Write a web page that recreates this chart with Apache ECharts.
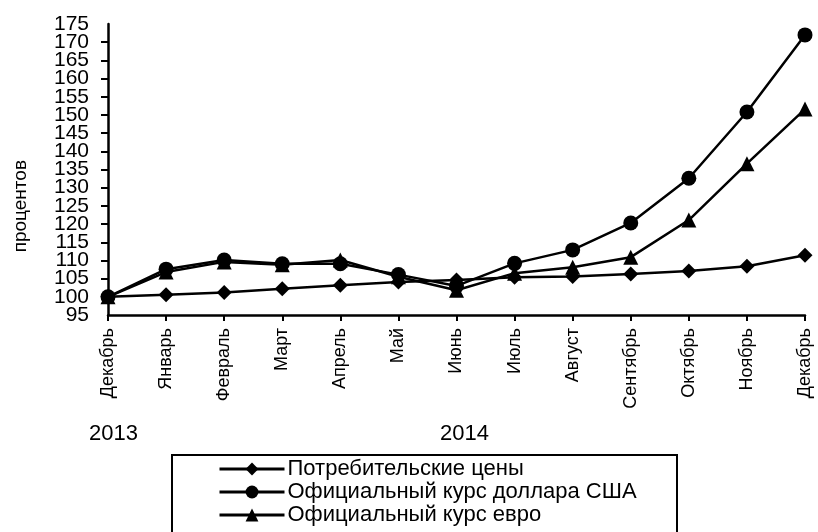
<!DOCTYPE html>
<html>
<head>
<meta charset="utf-8">
<script src="https://cdn.jsdelivr.net/npm/echarts@6/dist/echarts.min.js"></script>
<style>
html,body{margin:0;padding:0;background:#fff;}
#chart{width:818px;height:532px;}
</style>
</head>
<body>
<div id="chart"></div>
<script>
const months = ['Декабрь','Январь','Февраль','Март','Апрель','Май','Июнь','Июль','Август','Сентябрь','Октябрь','Ноябрь','Декабрь'];
const cpi = [100, 100.6, 101.2, 102.2, 103.2, 104.1, 104.6, 105.4, 105.6, 106.3, 107.1, 108.4, 111.4];
const usd = [100, 107.6, 110.1, 109.1, 109.1, 106.1, 103.0, 109.2, 112.9, 120.3, 132.6, 150.8, 172.0];
const eur = [100, 106.8, 109.6, 108.8, 110.1, 105.5, 101.8, 106.5, 108.1, 110.9, 121.1, 136.6, 151.6];
const seriesNames = ['Потребительские цены', 'Официальный курс доллара США', 'Официальный курс евро'];
const yearLabels = ['2013', '2014'];
const yAxisTitle = 'процентов';
const yMin = 95, yMax = 175, yStep = 5;

const FONT = 'Liberation Sans, Arial, sans-serif';
const chart = echarts.init(document.getElementById('chart'), null, {renderer: 'canvas'});

function mkSeries(name, data, symbol) {
  return {
    name: name, type: 'line', data: data, symbol: symbol, symbolSize: 15,
    showAllSymbol: true, yAxisIndex: 0,
    lineStyle: {color: '#000', width: 2.5},
    itemStyle: {color: '#000'},
    z: 3
  };
}

const yLabelStyle = {margin: 19, color: '#000', fontFamily: FONT, fontSize: 21, lineHeight: 16, hideOverlap: false};

chart.setOption({
  animation: false,
  backgroundColor: '#fff',
  textStyle: {fontFamily: FONT, color: '#000'},
  grid: {left: 108, right: 13, top: 24, bottom: 217, containLabel: false},
  xAxis: {
    type: 'category', data: months, boundaryGap: false,
    axisLine: {lineStyle: {color: '#000', width: 2.5}},
    axisTick: {show: true, inside: false, length: 6, lineStyle: {color: '#000', width: 2}, alignWithLabel: true},
    axisLabel: {rotate: 90, margin: 13, fontSize: 18, color: '#000', fontFamily: FONT, interval: 0},
    splitLine: {show: false}
  },
  yAxis: [{
    type: 'value', min: yMin, max: yMax, interval: yStep, position: 'left',
    axisLine: {show: true, lineStyle: {color: '#000', width: 2.5}},
    axisTick: {show: true, inside: false, length: 7, lineStyle: {color: '#000', width: 2}},
    axisLabel: Object.assign({}, yLabelStyle, {showMinLabel: false, showMaxLabel: false}),
    splitLine: {show: false}
  }, {
    type: 'value', min: yMin, max: yMax, interval: yMax - yMin, position: 'left', offset: 0,
    axisLine: {show: false}, axisTick: {show: false}, splitLine: {show: false},
    axisLabel: Object.assign({}, yLabelStyle, {showMinLabel: true, showMaxLabel: true})
  }],
  legend: {
    orient: 'vertical', left: 172, top: 458, height: 80,
    data: seriesNames,
    itemWidth: 65, itemHeight: 16, itemGap: 1,
    padding: [0, 0, 0, 46],
    lineStyle: {width: 3, color: '#000'},
    textStyle: {fontSize: 22, color: '#000', fontFamily: FONT, padding: [0, 0, 0, -2]},
    selectedMode: false
  },
  graphic: [
    {type: 'rect', shape: {x: 172, y: 455, width: 505, height: 100}, style: {fill: 'none', stroke: '#000', lineWidth: 2}, silent: true},
    {type: 'text', left: 11, top: 160, rotation: Math.PI/2, style: {text: yAxisTitle, fontSize: 19, fontFamily: FONT, fill: '#000'}},
    {type: 'text', left: 89, top: 423, style: {text: yearLabels[0], fontSize: 22, fontFamily: FONT, fill: '#000'}},
    {type: 'text', left: 440, top: 423, style: {text: yearLabels[1], fontSize: 22, fontFamily: FONT, fill: '#000'}}
  ],
  series: [
    mkSeries(seriesNames[0], cpi, 'diamond'),
    mkSeries(seriesNames[1], usd, 'circle'),
    mkSeries(seriesNames[2], eur, 'triangle')
  ]
});
</script>
</body>
</html>
